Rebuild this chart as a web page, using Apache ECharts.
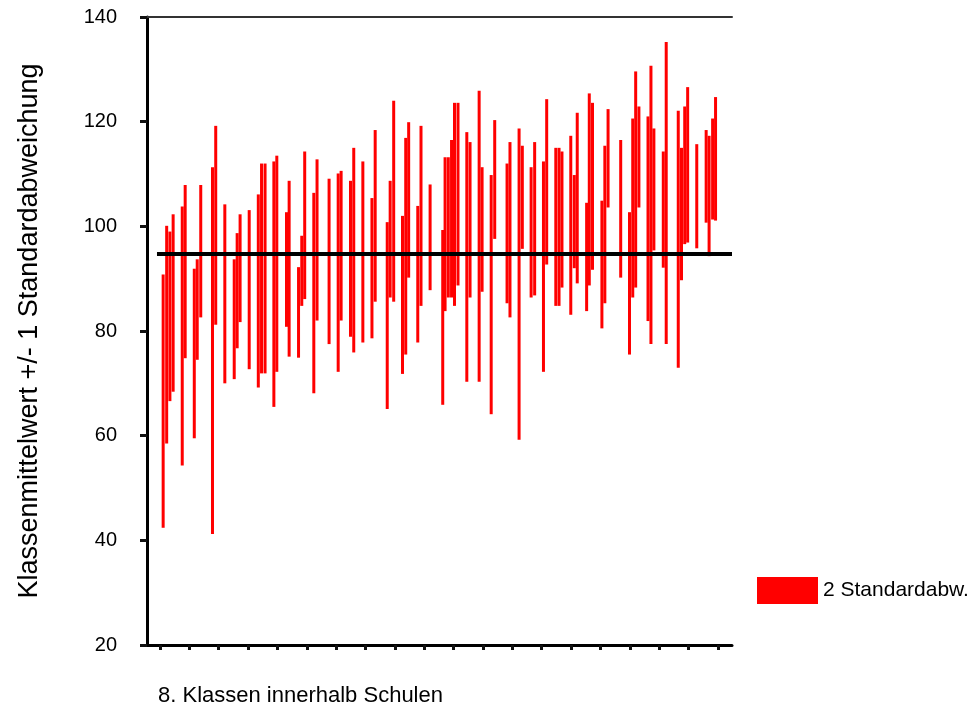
<!DOCTYPE html>
<html>
<head>
<meta charset="utf-8">
<script src="https://cdn.jsdelivr.net/npm/echarts@6/dist/echarts.min.js"></script>
<style>
  html, body { margin: 0; padding: 0; background: #fff; }
  #chart { width: 972px; height: 709px; }
</style>
</head>
<body>
<div id="chart"></div>
<script>
// Position der Klasse auf der x-Achse (Klassen innerhalb Schulen)
const classPos = [1.1, 2.3, 3.4, 4.5, 7.6, 8.6, 11.7, 12.7, 13.9, 17.9, 19.0, 22.1, 25.3, 26.3, 27.3, 30.4,
  33.5, 34.6, 35.8, 38.8, 39.8, 43.1, 44.0, 47.2, 48.3, 49.3, 52.4, 53.5, 57.6, 60.7, 61.7, 64.9,
  66.0, 69.1, 72.2, 73.3, 77.4, 78.4, 79.6, 82.6, 83.7, 84.7, 87.8, 88.9, 92.0, 96.3, 97.1, 98.2,
  99.3, 100.3, 101.5, 104.5, 105.6, 108.7, 109.7, 112.8, 114.0, 118.2, 119.2, 122.3, 123.4, 126.4,
  127.6, 130.6, 131.7, 134.8, 135.9, 136.9, 139.9, 141.1, 142.1, 145.3, 146.2, 147.3, 150.5, 151.5,
  152.6, 156.9, 159.9, 161.0, 162.0, 163.1, 166.2, 167.2, 168.2, 171.4, 172.4, 176.5, 177.6, 178.7,
  179.7, 182.8, 186.0, 187.0, 188.2, 189.2];

// Mittelwert - 1 SD
const lowVals = [42.4, 58.5, 66.6, 68.4, 54.3, 74.8, 59.5, 74.5, 82.6, 41.2, 81.2, 70.0, 70.8, 76.7, 81.7, 72.7,
  69.2, 71.9, 71.9, 65.5, 72.2, 80.8, 75.1, 74.9, 84.8, 86.1, 68.1, 82.0, 77.5, 72.2, 82.0, 78.9,
  75.9, 77.8, 78.6, 85.6, 65.1, 86.4, 85.6, 71.8, 75.5, 90.2, 77.8, 84.8, 87.8, 65.9, 83.8, 86.4,
  86.4, 84.8, 88.7, 70.3, 86.4, 70.3, 87.5, 64.1, 97.6, 85.3, 82.6, 59.2, 95.7, 86.4,
  86.8, 72.2, 92.7, 84.8, 84.8, 88.3, 83.1, 92.0, 89.1, 83.8, 88.7, 91.7, 80.5, 85.3,
  103.6, 90.2, 75.5, 86.4, 88.3, 103.6, 81.9, 77.5, 95.4, 92.1, 77.5, 73.0, 89.7, 96.6,
  96.9, 95.8, 100.7, 94.3, 101.3, 101.1];

// Mittelwert + 1 SD
const highVals = [90.8, 100.1, 99.0, 102.3, 103.8, 107.9, 91.9, 93.7, 107.9, 111.3, 119.2, 104.2, 93.7, 98.7, 102.3, 103.1,
  106.1, 112.0, 112.0, 112.4, 113.5, 102.7, 108.7, 92.2, 98.2, 114.3, 106.4, 112.8, 109.1, 110.1, 110.6, 108.7,
  115.0, 112.4, 105.4, 118.4, 100.8, 108.7, 124.0, 102.0, 116.9, 119.9, 103.9, 119.2, 108.0, 99.3, 113.2, 113.2,
  116.5, 123.6, 123.6, 118.0, 116.1, 125.9, 111.3, 109.8, 120.3, 112.0, 116.1, 118.7, 115.4, 111.3,
  116.1, 112.4, 124.3, 115.0, 115.0, 114.3, 117.3, 109.8, 121.7, 104.5, 125.4, 123.6, 104.9, 115.4,
  122.4, 116.5, 102.7, 120.6, 129.6, 122.9, 121.0, 130.7, 118.7, 114.3, 135.2, 122.1, 115.0, 122.9,
  126.6, 115.7, 118.4, 117.3, 120.6, 124.7];

const meanVal = 94.7;            // Gesamtmittelwert
const meanFrom = -1;             // Beginn der Mittelwertlinie
const xTicks = [0, 10, 20, 30, 40, 50, 60, 70, 80, 90, 100, 110, 120, 130, 140, 150, 160, 170, 180, 190];
const xMin = -4.4, xMax = 194.8;

const font = "'Liberation Sans', Arial, sans-serif";
const chart = echarts.init(document.getElementById('chart'));

const rangeData = classPos.map((x, i) => [x, lowVals[i], highVals[i]]);

chart.setOption({
  animation: false,
  textStyle: { fontFamily: font },
  grid: { left: 147, right: 240, top: 17, bottom: 64 },
  legend: {
    data: [{ name: '2 Standardabw.', icon: 'rect' }],
    left: 752, top: 572,
    itemWidth: 61, itemHeight: 27, itemGap: 0,
    textStyle: { fontSize: 21, color: '#000', fontFamily: font }
  },
  xAxis: [{
    type: 'value', min: xMin, max: xMax,
    axisLine: { show: true, onZero: false, lineStyle: { color: '#000', width: 3 } },
    axisTick: { show: true, customValues: xTicks, length: 5, lineStyle: { color: '#111', width: 3 } },
    axisLabel: { show: false },
    splitLine: { show: false }
  }, {
    type: 'value', min: xMin, max: xMax, position: 'top',
    axisLine: { show: true, onZero: false, lineStyle: { color: '#333', width: 2 } },
    axisTick: { show: false }, axisLabel: { show: false }, splitLine: { show: false }
  }],
  yAxis: {
    type: 'value', min: 20, max: 140, interval: 20,
    name: 'Klassenmittelwert +/- 1 Standardabweichung',
    nameLocation: 'middle', nameRotate: 90, nameGap: 104,
    nameTextStyle: { fontSize: 27, color: '#000', fontFamily: font },
    axisLine: { show: true, onZero: false, lineStyle: { color: '#000', width: 3 } },
    axisTick: { show: true, length: 7, lineStyle: { color: '#111', width: 3 } },
    axisLabel: { fontSize: 20, color: '#000', margin: 30, fontFamily: font },
    splitLine: { show: false }
  },
  graphic: [{
    type: 'text', left: 158, top: 685,
    style: { text: '8. Klassen innerhalb Schulen', fontSize: 22, fill: '#000', fontFamily: font }
  }],
  series: [{
    name: '2 Standardabw.',
    type: 'custom',
    itemStyle: { color: '#ff0000' },
    encode: { x: 0, y: [1, 2] },
    data: rangeData,
    renderItem: function (params, api) {
      const lo = api.coord([api.value(0), api.value(1)]);
      const hi = api.coord([api.value(0), api.value(2)]);
      return {
        type: 'rect',
        shape: { x: lo[0] - 1.5, y: hi[1], width: 3, height: lo[1] - hi[1] },
        style: { fill: '#ff0000' }
      };
    },
    z: 2
  }, {
    name: 'Mittelwert',
    type: 'line',
    data: [[meanFrom, meanVal], [xMax, meanVal]],
    symbol: 'none',
    lineStyle: { color: '#000', width: 4 },
    silent: true,
    z: 3
  }]
});
</script>
</body>
</html>
